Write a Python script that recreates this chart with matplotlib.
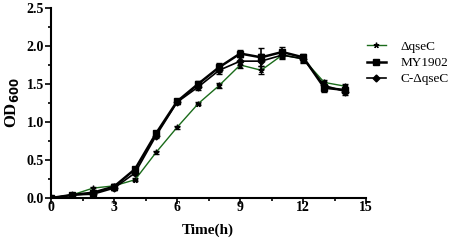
import matplotlib
matplotlib.use("Agg")
import matplotlib.pyplot as plt
from matplotlib.lines import Line2D
from matplotlib.ticker import MultipleLocator

time_h = [0, 1, 2, 3, 4, 5, 6, 7, 8, 9, 10, 11, 12, 13, 14]

qsec = [0.0, 0.04, 0.13, 0.16, 0.24, 0.60, 0.93, 1.24, 1.48, 1.75, 1.68, 1.88, 1.83, 1.52, 1.47]
qsec_err = [0.0, 0.01, 0.02, 0.03, 0.02, 0.02, 0.02, 0.02, 0.03, 0.04, 0.05, 0.04, 0.04, 0.03, 0.03]

my1902 = [0.0, 0.04, 0.07, 0.15, 0.38, 0.85, 1.27, 1.50, 1.72, 1.90, 1.85, 1.92, 1.85, 1.45, 1.42]
my1902_err = [0.0, 0.01, 0.02, 0.04, 0.03, 0.03, 0.03, 0.04, 0.06, 0.04, 0.12, 0.06, 0.05, 0.05, 0.04]

comp = [0.0, 0.04, 0.05, 0.13, 0.33, 0.82, 1.26, 1.46, 1.68, 1.80, 1.80, 1.88, 1.83, 1.48, 1.40]
comp_err = [0.0, 0.01, 0.02, 0.03, 0.03, 0.03, 0.03, 0.04, 0.05, 0.05, 0.10, 0.05, 0.05, 0.05, 0.04]

labels = ["\u0394qseC", "MY1902", "C-\u0394qseC"]

plt.rcParams["font.family"] = ["Liberation Serif", "DejaVu Serif"]

fig = plt.figure(figsize=(4.61, 2.4), dpi=100)
ax = fig.add_axes([0.1106, 0.175, 0.684, 0.792])

green = "#1a6b1a"
ax.errorbar(time_h, qsec, yerr=qsec_err, color=green, lw=1.0, marker=(5, 2),
            ms=4, mec="black", ecolor="black", elinewidth=1, capsize=2)
ax.errorbar(time_h, my1902, yerr=my1902_err, color="black", lw=1.8, marker="s",
            ms=4, elinewidth=1.2, capsize=2.5)
ax.errorbar(time_h, comp, yerr=comp_err, color="black", lw=1.2, marker="D",
            ms=3.5, elinewidth=1.2, capsize=2.5)

ax.set_xlim(0, 15)
ax.set_ylim(0, 2.5)
ax.xaxis.set_major_locator(MultipleLocator(3))
ax.xaxis.set_minor_locator(MultipleLocator(1.5))
ax.yaxis.set_minor_locator(MultipleLocator(0.25))
ax.set_yticks([0, 0.5, 1.0, 1.5, 2.0, 2.5])
ax.set_yticklabels(["0.0", "0.5", "1.0", "1.5", "2.0", "2.5"])

for s in ["top", "right"]:
    ax.spines[s].set_visible(False)
for s in ["left", "bottom"]:
    ax.spines[s].set_linewidth(1.5)

ax.tick_params(which="major", length=4, width=1.2, labelsize=10)
ax.tick_params(axis="y", which="major", pad=1)
ax.tick_params(axis="x", which="major", pad=-2)
ax.tick_params(which="minor", length=2.5, width=1.2)
for t in ax.get_xticklabels() + ax.get_yticklabels():
    t.set_fontweight("bold")

fig.text(0.451, 0.04, "Time(h)", fontsize=11, fontweight="bold", ha="center", va="center")
ax.set_ylabel("OD$_{\\mathbf{600}}$", fontsize=12, fontweight="bold", labelpad=4)

handles = [
    Line2D([], [], color=green, lw=1.0, marker=(5, 2), ms=4, mec="black"),
    Line2D([], [], color="black", lw=1.8, marker="s", ms=4),
    Line2D([], [], color="black", lw=1.2, marker="D", ms=3.5),
]
ax.legend(handles, labels, loc="upper left", bbox_to_anchor=(0.963, 0.89), frameon=False,
          fontsize=9.5, handlelength=1.5, labelspacing=0.3, handletextpad=1.05)

fig.savefig("out.png", dpi=100)
